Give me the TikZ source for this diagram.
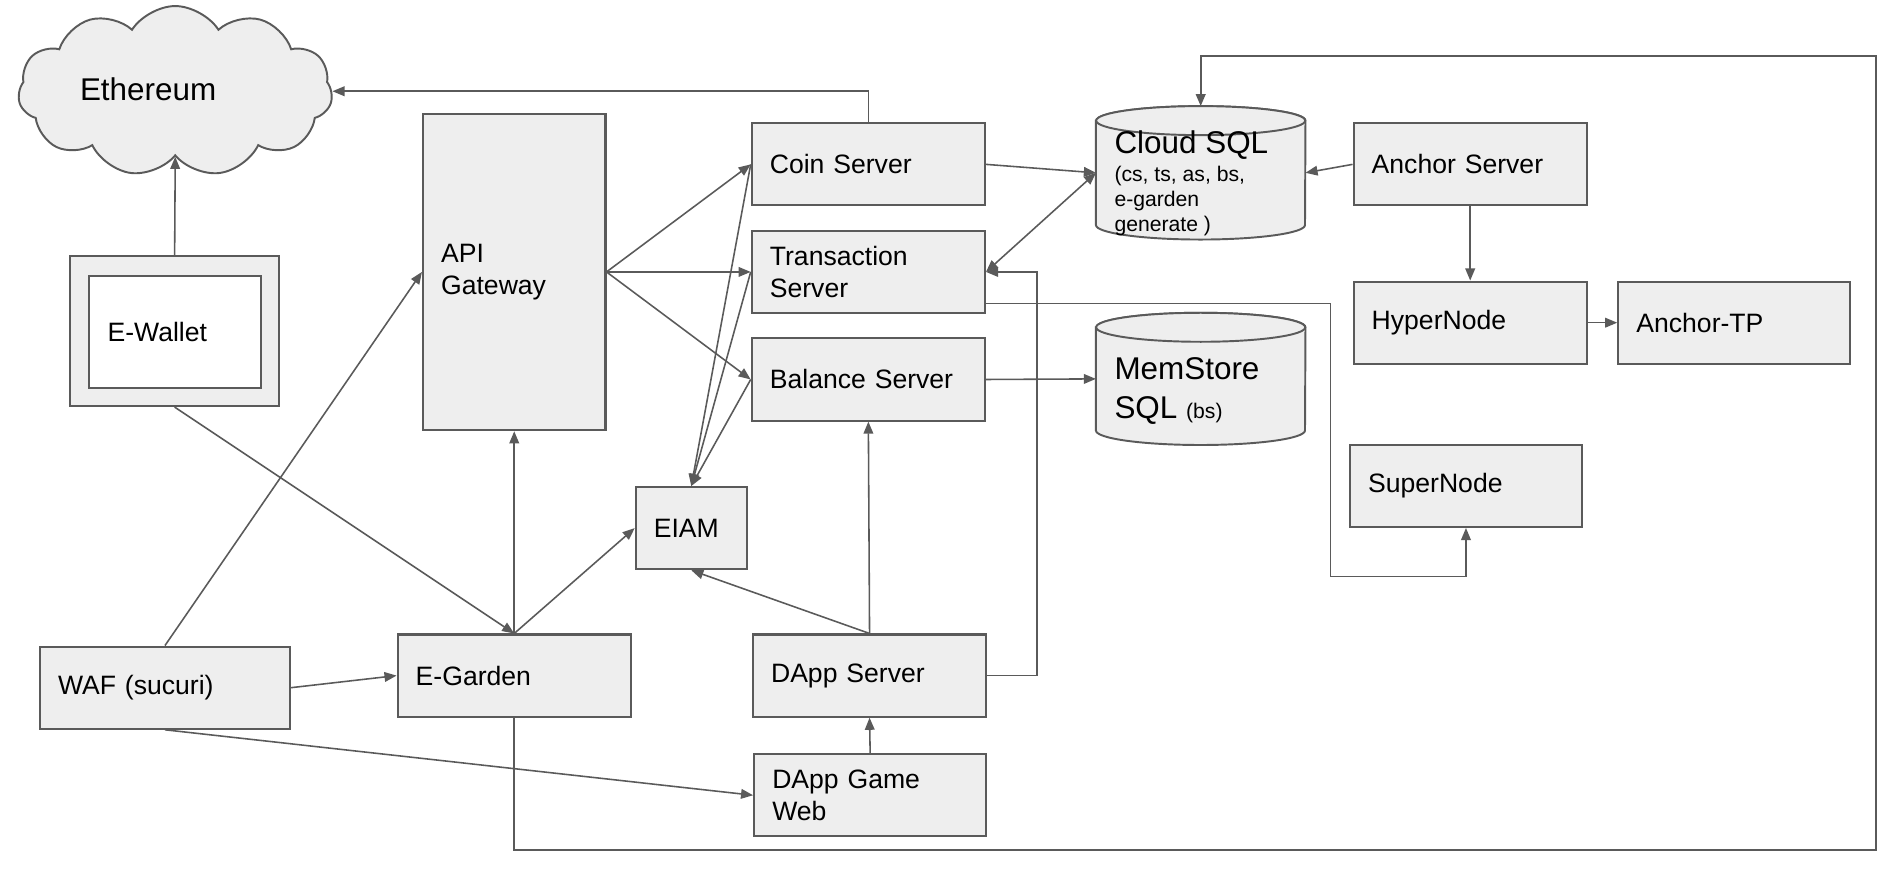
\documentclass[tikz,border=0pt]{standalone}
\usepackage{fontspec}
\setmainfont{Liberation Sans}
\usetikzlibrary{arrows.meta,shapes.symbols}
\definecolor{linegray}{HTML}{5A5A5A}
\definecolor{boxfill}{HTML}{EEEEEE}
\begin{document}
\begin{tikzpicture}
        [x=1pt, y=-1pt,
        >={Triangle[length=10pt,width=8pt]},
        box/.style={rectangle, draw=linegray, fill=boxfill, line width=1.7pt,
            text width=#1, inner xsep=15pt, inner ysep=0pt, align=left,
            minimum height=68pt, font=\fontsize{22}{27}\selectfont},
        frame/.style={rectangle, draw=linegray, fill=boxfill, line width=1.7pt},
        db/.style={rectangle, inner sep=0pt, minimum width=173pt},
        dbshape/.style={draw=linegray, fill=boxfill, line width=1.6pt},
        cloudshape/.style={cloud, draw=linegray, fill=boxfill, line width=1.6pt,
            cloud puffs=11, cloud puff arc=115, cloud ignores aspect,
            minimum width=260pt, minimum height=141pt},
        txt/.style={inner sep=0pt, align=left},
        conn/.style={draw=linegray, line width=1.3pt, ->},
        loop/.style={draw=linegray, line width=1.7pt, ->}]
    \useasboundingbox (0,0) rectangle (1568,720.7);
    \node[cloudshape] (eth) at (145,75.5) {};
    \node[txt, anchor=west, font=\fontsize{26}{30}\selectfont] (ethlabel) at (66,74) {Ethereum};
    \node[frame, minimum width=173pt, minimum height=124pt] (ewallet) at (144.5,274) {};
    \node[box=112pt, fill=white, minimum height=93pt] (ewalletin) at (145,274.5) {E-Wallet};
    \node[box=121pt, minimum height=262pt] (api) at (425.5,225) {API\\Gateway};
    \node[box=163pt] (coin) at (718.5,136) {Coin Server};
    \node[box=163pt] (trans) at (718.5,225) {Transaction\\Server};
    \node[box=163pt] (bal) at (718.5,314) {Balance Server};
    \node[box=62pt] (eiam) at (572,437) {EIAM};
    \node[box=163pt] (anchor) at (1216.5,136) {Anchor Server};
    \node[box=163pt] (hyper) at (1216.5,267) {HyperNode};
    \node[box=162pt] (anchortp) at (1435,267) {Anchor-TP};
    \node[box=162pt] (super) at (1213,402) {SuperNode};
    \node[box=177pt] (waf) at (136.5,569) {WAF (sucuri)};
    \node[box=163pt] (egarden) at (425.5,559) {E-Garden};
    \node[box=163pt] (dapp) at (719.5,559) {DApp Server};
    \node[box=162pt] (game) at (720,658) {DApp Game\\Web};

    \node[db, minimum height=110pt] (cloudsql) at (993.5,143) {};
    \draw[dbshape] ([yshift=-12pt]cloudsql.north west) -- ([yshift=12pt]cloudsql.south west)
        arc[start angle=180, end angle=360, x radius=86.5pt, y radius=12pt]
        -- ([yshift=-12pt]cloudsql.north east)
        arc[start angle=0, end angle=180, x radius=86.5pt, y radius=12pt] -- cycle;
    \draw[dbshape] ([yshift=-12pt]cloudsql.north) ellipse[x radius=86.5pt, y radius=12pt];
    \node[txt, anchor=base west, font=\fontsize{26}{30}\selectfont] (cloudsqltitle) at (922,127) {Cloud SQL};
    \node[txt, anchor=north west, font=\fontsize{17.5}{21}\selectfont] (cloudsqlnote) at (922,137)
        {(cs, ts, as, bs,\\e-garden\\generate )};

    \node[db, minimum height=109pt] (memstore) at (993.5,313.5) {};
    \draw[dbshape] ([yshift=-12pt]memstore.north west) -- ([yshift=12pt]memstore.south west)
        arc[start angle=180, end angle=360, x radius=86.5pt, y radius=12pt]
        -- ([yshift=-12pt]memstore.north east)
        arc[start angle=0, end angle=180, x radius=86.5pt, y radius=12pt] -- cycle;
    \draw[dbshape] ([yshift=-12pt]memstore.north) ellipse[x radius=86.5pt, y radius=12pt];
    \node[txt, anchor=base west, font=\fontsize{26}{30}\selectfont] (memstoretitle) at (922,314) {MemStore};
    \node[txt, anchor=base west, font=\fontsize{26}{30}\selectfont] (memstoresql) at (922,346)
        {SQL {\fontsize{17.5}{21}\selectfont (bs)}};

    \coordinate (loopbr) at (1552,703);
    \coordinate (looptr) at (1552,46);
    \coordinate (superbend) at (1101,477);

    \draw[conn] (coin.north) |- (eth.east);
    \draw[conn] (ewallet.north) -- (eth.south);
    \draw[conn] (ewallet.south) -- (egarden.north);
    \draw[conn] (waf.north) -- (api.west);
    \draw[conn] (waf.east) -- (egarden.west);
    \draw[conn] (waf.south) -- (game.west);
    \draw[conn] (egarden.north) -- (api.south);
    \draw[conn] (egarden.north) -- (eiam.west);
    \draw[loop] (egarden.south) |- (loopbr) -- (looptr) -| (cloudsql.north);
    \draw[conn] (api.east) -- (coin.west);
    \draw[conn] (api.east) -- (trans.west);
    \draw[conn] (api.east) -- (bal.west);
    \draw[conn] (coin.west) -- (eiam.north);
    \draw[conn] (trans.west) -- (eiam.north);
    \draw[conn] (bal.west) -- (eiam.north);
    \draw[conn] (coin.east) -- (cloudsql.west);
    \draw[conn, <->] (trans.east) -- (cloudsql.west);
    \draw[conn] ([yshift=-26pt]trans.east) -| (superbend) -| (super.south);
    \draw[conn] (bal.east) -- (memstore.west);
    \draw[conn] (anchor.west) -- (cloudsql.east);
    \draw[conn] (anchor.south) -- (hyper.north);
    \draw[conn] (hyper.east) -- (anchortp.west);
    \draw[conn] (dapp.north) -- (bal.south);
    \draw[conn] (dapp.north) -- (eiam.south);
    \draw[conn] (dapp.east) -- ++(41,0) |- (trans.east);
    \draw[conn] (game.north) -- (dapp.south);
\end{tikzpicture}
\end{document}
